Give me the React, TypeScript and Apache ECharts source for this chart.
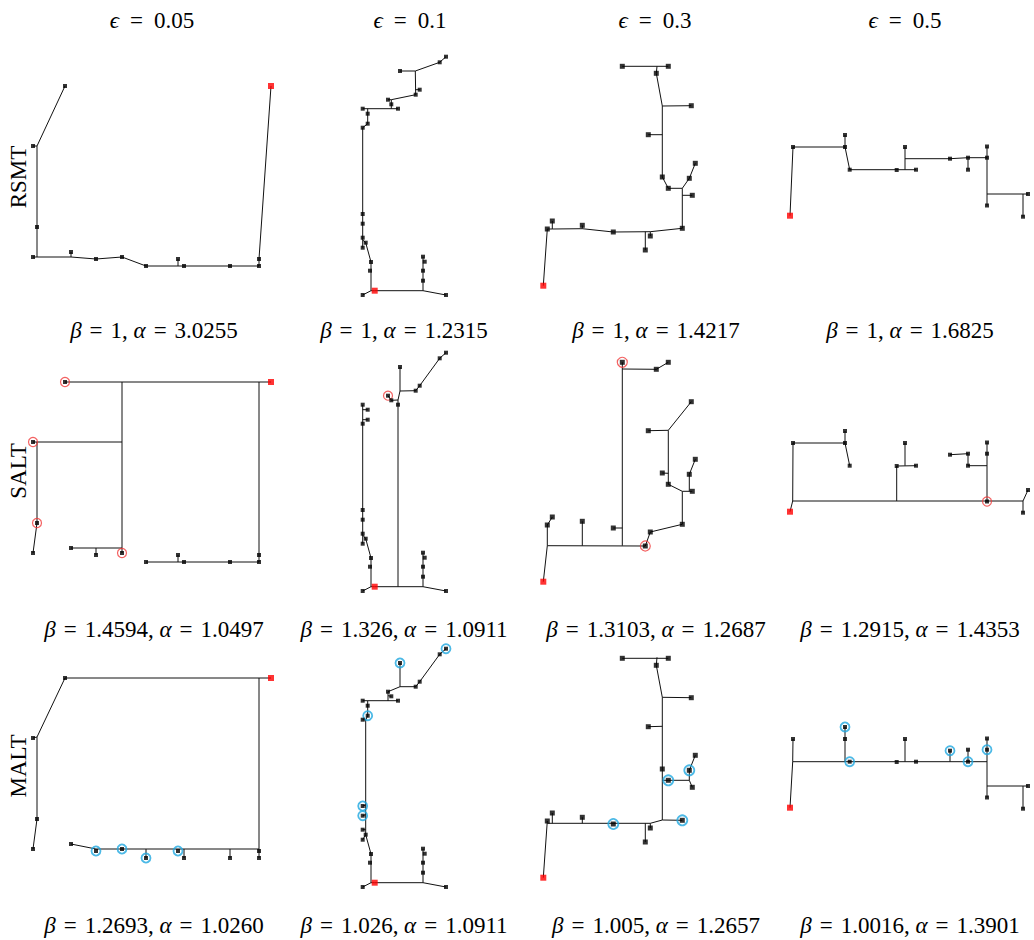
import React, { useEffect, useRef } from 'react';
import * as echarts from 'echarts';

type Pt = number | [number, number];

// ---- texts ----
const epsLabels = ['0.05', '0.1', '0.3', '0.5'];
const rowLabels = ['RSMT', 'SALT', 'MALT'];
const betaLabels = [
  ['1', '1', '1', '1'],
  ['1.4594', '1.326', '1.3103', '1.2915'],
  ['1.2693', '1.026', '1.005', '1.0016'],
];
const alphaLabels = [
  ['3.0255', '1.2315', '1.4217', '1.6825'],
  ['1.0497', '1.0911', '1.2687', '1.4353'],
  ['1.0260', '1.0911', '1.2657', '1.3901'],
];

// ---- pins per column (index 0 = source) ----
const pins1: [number, number][] = [
  [251, 36], [45, 36], [13, 96], [17, 177], [13, 207], [51, 202], [76, 209], [102, 207],
  [126, 216], [158, 209], [164, 216], [210, 216], [239, 209], [239, 216],
];
const pins2: [number, number][] = [
  [34.7, 240.7], [106, 6.7], [99.7, 12.3], [60, 21], [79.7, 39.7], [75.7, 44.7], [48, 49.7],
  [51.3, 54.3], [22.7, 58.7], [58, 58.7], [27.7, 63.7], [27.7, 73.7], [22.7, 77.7], [22.7, 164],
  [22.7, 173.7], [22.7, 187.7], [25.7, 192.7], [22.7, 197.7], [31, 212], [30, 220.7], [22.7, 245],
  [83, 206.7], [84.7, 211.7], [83, 220.7], [83, 230.7], [106, 245],
];
const pins3: [number, number][] = [
  [18.3, 235.7], [97.3, 16.3], [143.3, 16.3], [131.3, 23.3], [166.3, 55.7], [123.3, 84.7],
  [137.3, 127], [143.3, 138.3], [164.3, 128.3], [170.3, 113.3], [167.3, 145.3], [157.3, 178.3],
  [27.3, 171], [22.3, 179], [57.3, 175.3], [88.3, 182], [125.3, 186], [120.3, 200],
];
const pins4: [number, number][] = [
  [20, 165.7], [23, 97], [75, 85], [75, 97], [79.7, 119.7], [126.7, 120], [135, 97], [146, 119.7],
  [180, 108.7], [198, 107.7], [198, 119.7], [217, 96.5], [217, 107.7], [217, 155.5], [258, 144],
  [253, 166.7],
];

// ---- trees: polylines (pin index or steiner point) ----
const rsmt1: Pt[][] = [
  [1, [17, 96], [17, 207], [51, 207], 6, 7, 8, 13], [2, [17, 96]], [4, [17, 207]],
  [5, [51, 207]], [9, [158, 216]], [0, 12, 13],
];
const salt1: Pt[][] = [
  [1, 0], [[102, 36], 7], [2, [102, 96]], [[17, 96], 3, 4], [5, [102, 202]], [[76, 202], 6],
  [[239, 36], 12, 13], [8, 13], [9, [158, 216]],
];
const malt1: Pt[][] = [
  [1, 0], [[239, 36], 13], [1, [17, 95], 3, 4], [2, [17, 95]], [5, [76, 207], [239, 207]],
  [[126, 207], 8], [[164, 207], 10], [[210, 207], 11],
];
const rsmt2: Pt[][] = [
  [1, 2, [75.3, 21], 3], [[75.3, 21], 5], [4, [75.3, 39.7]], [5, [51.3, 49.7], [51.3, 58.7]],
  [6, [51.3, 49.7]], [8, 9], [[27.7, 58.7], 10, 11, 12], [12, 17],
  [[22.7, 190], 16, 18, [31, 240.7], 0], [20, [31, 240.7]], [0, [83, 240.7], 25],
  [21, [83, 240.7]],
];
const salt2: Pt[][] = [
  [1, 2, 4, 5, [60, 45], 3], [[60, 45], [58, 54], [58, 240.7]], [7, [58, 54]], [6, 7],
  [0, [83, 240.7], 25], [21, [83, 240.7]], [8, 17], [10, [22.7, 63.7]], [11, [22.7, 73.7]],
  [[22.7, 189], 16, 18, [31, 240.7], 0], [20, [31, 240.7]],
];
const malt2: Pt[][] = [
  [1, 2, 4, 5, [60, 44.7], 3], [[60, 44.7], 6, [48, 59]], [7, [48, 53.7]], [8, 9],
  [[27.7, 59], 11, [25.7, 78], 16, 18, [31, 240.7], 0], [12, [25.7, 78]], [13, [25.7, 163]],
  [14, [25.7, 172.7]], [15, [25.7, 187.7]], [17, 16], [20, [31, 240.7]],
  [0, [83, 240.7], 25], [21, [83, 240.7]],
];
const rsmt3: Pt[][] = [
  [1, 2], [[132, 16.3], 3, [137.3, 56], 6, 7, [157.3, 138.3], 8, 9], [[137.3, 56], 4],
  [5, [137.3, 84.7]], [[157.3, 138.3], 11, [125.3, 181.7], 15, [57.3, 178.7], [27.3, 179], 13, 0],
  [10, [157.3, 145.3]], [12, [27.3, 179]], [14, [57.3, 178.7]], [17, [120.3, 181.7]],
  [16, [125.3, 181.7]],
];
const salt3: Pt[][] = [
  [1, [97.3, 199.7]], [[97.3, 23], 3, 2], [15, [97.3, 182]], [[22.3, 199.7], 17],
  [13, [22.3, 199.7], 0], [12, 13], [14, [57.3, 199.7]], [17, 16, 11, [157.3, 145.3], 10],
  [7, [157.3, 145.3]], [8, [164.3, 145.3]], [9, 8], [7, [143.3, 84.3], 4], [5, [143.3, 84.3]],
  [6, [143.3, 127.3]],
];
const malt3: Pt[][] = [
  [1, 2], [[132, 15.3], 3, [137.3, 55.3], [137.3, 178]], [[137.3, 55.3], 4], [5, [137.3, 84.3]],
  [[137.3, 138.3], 7, [164.3, 138.3]], [8, [164.3, 138.3], 10], [9, 8], [[137.3, 178], 11],
  [[137.3, 178], [125.3, 181.3], [22.3, 181.3]], [0, 13], [12, [27.3, 181.3]],
  [14, [57.3, 181.3]], [17, [120.3, 181.3]], [16, [125.3, 181.3]],
];
const rsmt4: Pt[][] = [
  [0, 1, 3, 4, [135, 119.7], 7], [2, 3], [6, [135, 119.7]], [[135, 108.7], 8, 9, 12],
  [10, [198, 108.5]], [11, 12, [217, 144], 13], [[217, 144], 14], [15, [253, 144]],
];
const salt4: Pt[][] = [
  [0, [22.7, 155], [253, 155], 14], [[22.7, 155], 1, 3, 4], [2, 3], [[126.7, 155], 5, 7],
  [[135, 119.7], 6], [[253, 155], 15], [13, 11], [[217, 119.7], 10, 9, 8],
];
const malt4: Pt[][] = [
  [0, [22.7, 119.7], [217, 119.7]], [[22.7, 119.7], 1], [[75, 119.7], 3, 2], [[135, 119.7], 6],
  [[180, 119.7], 8], [[198, 119.7], 9], [11, 13], [[217, 144], 14], [[253, 144], 15],
];

// circled pins (SALT: red, MALT: blue)
const saltMarks = [[1, 2, 3, 7], [6], [1, 17], [13]];
const maltMarks = [[6, 7, 8, 9], [1, 3, 11, 13, 14], [7, 8, 11, 15], [2, 4, 8, 10, 12]];

const columnPins = [pins1, pins2, pins3, pins4];
const trees = [
  [rsmt1, rsmt2, rsmt3, rsmt4],
  [salt1, salt2, salt3, salt4],
  [malt1, malt2, malt3, malt4],
];
const marks = [[[], [], [], []], saltMarks, maltMarks];

// ---- layout ----
const colLeft = [20, 340, 525, 770];
const colWidth = [260, 120, 180, 264];
const rowTop = [50, 346, 642];
const PH = 250;
const pinSize = [4, 4, 5, 4];
const FONT = '"Liberation Serif", "DejaVu Serif", serif';
const FS = 23;

function buildOption() {
  const grid: any[] = [];
  const xAxis: any[] = [];
  const yAxis: any[] = [];
  const series: any[] = [];
  for (let r = 0; r < 3; r++) {
    for (let c = 0; c < 4; c++) {
      const idx = r * 4 + c;
      const pins = columnPins[c];
      const res = (p: Pt) => (typeof p === 'number' ? pins[p] : p);
      grid.push({ left: colLeft[c], top: rowTop[r], width: colWidth[c], height: PH, show: false });
      xAxis.push({ gridIndex: idx, type: 'value', min: 0, max: colWidth[c], show: false });
      yAxis.push({ gridIndex: idx, type: 'value', min: 0, max: PH, inverse: true, show: false });
      series.push({
        type: 'lines', coordinateSystem: 'cartesian2d', xAxisIndex: idx, yAxisIndex: idx,
        polyline: true, silent: true, z: 1, clip: false,
        lineStyle: { color: '#111', width: 1, opacity: 1 },
        data: trees[r][c].map((pl) => ({ coords: pl.map(res) })),
      });
      const m = marks[r][c];
      if (m.length) {
        series.push({
          type: 'scatter', xAxisIndex: idx, yAxisIndex: idx, silent: true, z: 2, clip: false,
          symbol: 'circle', symbolSize: pinSize[c] + 5,
          itemStyle: {
            color: 'rgba(0,0,0,0)',
            borderColor: r === 1 ? '#f03a3a' : '#1fa8e0',
            borderWidth: r === 1 ? 1.2 : 1.8,
          },
          data: m.map((i) => pins[i]),
        });
      }
      series.push({
        type: 'scatter', xAxisIndex: idx, yAxisIndex: idx, silent: true, z: 3, clip: false,
        symbol: 'rect', symbolSize: pinSize[c], itemStyle: { color: '#000' },
        data: pins.slice(1),
      });
      series.push({
        type: 'scatter', xAxisIndex: idx, yAxisIndex: idx, silent: true, z: 4, clip: false,
        symbol: 'rect', symbolSize: 6, itemStyle: { color: '#ff0000' },
        data: [pins[0]],
      });
    }
  }

  const headerX = [152, 410, 655, 905];
  const capX = [154, 404, 656, 910];
  const capY = [330, 629, 925];
  const rowLabelY = [177, 471, 766];
  const graphic: any[] = [];
  const base = { fontFamily: FONT, fontSize: FS, fill: '#000' };
  const rich = {
    i: { ...base, fontStyle: 'italic' },
    e: { ...base, padding: [0, 8, 0, 8] },
    h: { ...base, padding: [0, 11, 0, 11] },
  };
  const center = { align: 'center', verticalAlign: 'middle', textAlign: 'center', textVerticalAlign: 'middle' };
  epsLabels.forEach((e, c) => {
    graphic.push({
      type: 'text', x: headerX[c], y: 20,
      style: { text: `{i|ϵ}{h|=}${e}`, rich, ...base, ...center },
    });
  });
  rowLabels.forEach((t, r) => {
    graphic.push({
      type: 'text', x: 18, y: rowLabelY[r], rotation: Math.PI / 2,
      style: { text: t, ...base, ...center },
    });
  });
  for (let r = 0; r < 3; r++) {
    for (let c = 0; c < 4; c++) {
      graphic.push({
        type: 'text', x: capX[c], y: capY[r],
        style: {
          text: `{i|β}{e|=}${betaLabels[r][c]}, {i|α}{e|=}${alphaLabels[r][c]}`,
          rich, ...base, ...center,
        },
      });
    }
  }

  return { animation: false, backgroundColor: '#fff', grid, xAxis, yAxis, series, graphic };
}

export default function App() {
  const ref = useRef<HTMLDivElement>(null);
  useEffect(() => {
    if (!ref.current) return;
    const chart = echarts.init(ref.current, undefined, { renderer: 'svg' });
    chart.setOption(buildOption() as any);
    return () => chart.dispose();
  }, []);
  return (
    <div
      ref={ref}
      style={{ position: 'absolute', left: 0, top: 0, width: 1034, height: 940 }}
    />
  );
}
